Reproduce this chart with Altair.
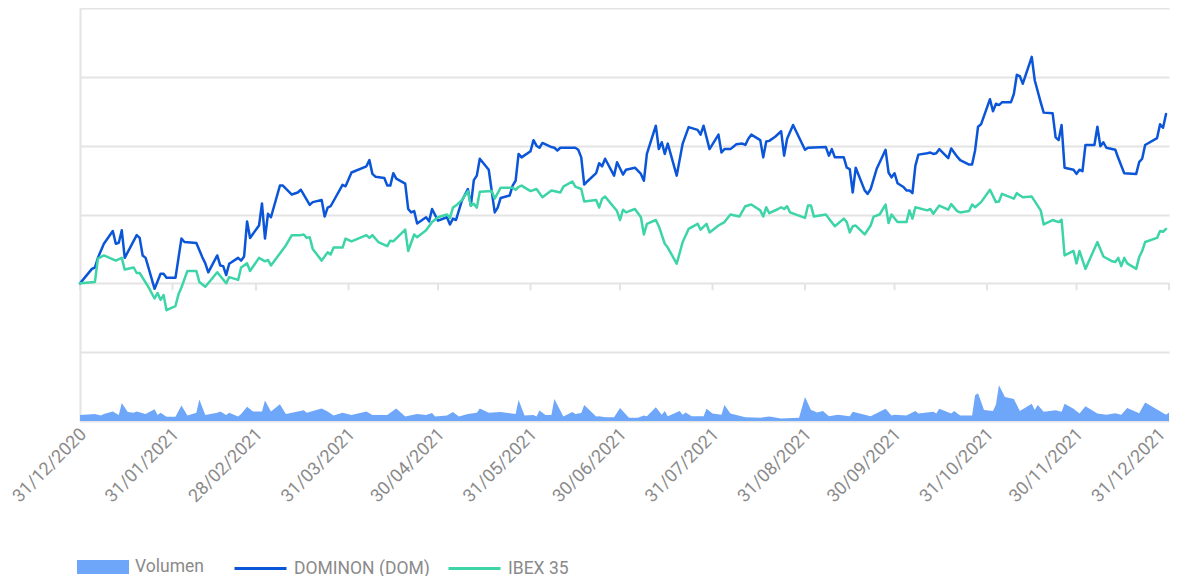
import altair as alt
import pandas as pd

START = "2020-12-31"

# ---- DOMINON (DOM): day offset from 31/12/2020, % change ----
DOM_DAYS = [0, 4, 5, 6, 8, 11, 12, 13, 14, 15, 19, 20, 21, 22, 25, 27, 28, 29, 32, 34, 35, 39, 41, 42, 43, 46, 47, 48, 49, 50,
            53, 54, 55, 56, 57, 60, 61, 62, 63, 64, 67, 68, 71, 73, 74, 77, 78, 81, 82, 83, 84, 88, 89, 91, 96, 97, 98, 99, 102, 103,
            104, 105, 106, 109, 110, 111, 112, 113, 116, 117, 118, 120, 123, 124, 125, 126, 128, 130, 131, 132, 133, 134, 137, 139, 140, 141, 144, 145, 146, 147,
            148, 151, 152, 153, 154, 155, 158, 159, 160, 161, 166, 167, 168, 169, 170, 173, 174, 175, 176, 179, 180, 182, 183, 186, 188, 189, 190, 193, 194, 195,
            196, 197, 200, 202, 204, 207, 208, 209, 211, 214, 215, 216, 218, 220, 222, 223, 224, 225, 228, 229, 230, 231, 233, 235, 236, 237, 239, 243, 244, 250,
            251, 252, 253, 256, 257, 258, 259, 260, 263, 264, 265, 267, 270, 271, 272, 273, 274, 276, 277, 278, 279, 280, 281, 284, 285, 286, 287, 288, 291, 292,
            294, 295, 298, 299, 300, 301, 302, 305, 306, 307, 308, 309, 312, 313, 314, 315, 316, 319, 320, 322, 323, 326, 327, 328, 329, 330, 333, 334, 335, 336,
            337, 340, 341, 342, 343, 344, 347, 348, 350, 354, 355, 356, 357, 361, 362, 363, 364]
DOM_VALUES = [0, 2.1, 2.3, 3.7, 5.75, 7.6, 5.75, 5.9, 7.7, 3.7, 7.0, 6.6, 4.05, 3.7, -0.8, 1.4, 1.4, 0.8, 0.8, 6.5, 6.0, 5.85, 3.8, 2.9, 1.6, 4.05, 2.6, 2.5, 1.2, 2.85,
              3.7, 3.3, 3.9, 9.0, 6.6, 8.4, 11.6, 6.5, 10.1, 9.6, 14.2, 14.2, 12.9, 13.2, 13.6, 11.4, 11.8, 12.1, 9.7, 11.0, 11.2, 14.3, 14.1, 16.1, 17.0, 17.9, 15.9, 15.5, 15.3, 14.2,
              14.2, 16.0, 15.2, 14.5, 10.8, 10.3, 10.5, 8.7, 9.6, 9.0, 10.8, 9.1, 9.6, 8.55, 9.4, 9.2, 12.0, 13.7, 11.3, 15.0, 15.65, 18.1, 16.5, 10.3, 11.0, 12.4, 12.75, 14.2, 14.9, 18.8,
              18.3, 19.2, 20.8, 20.0, 19.7, 20.4, 19.8, 19.7, 19.3, 19.7, 19.7, 19.4, 18.3, 14.35, 14.8, 16.0, 17.45, 17.0, 18.1, 15.65, 17.6, 15.8, 16.5, 16.8, 15.9, 14.9, 18.8, 22.9, 19.5, 20.5,
              18.8, 20.3, 15.65, 20.3, 22.7, 22.3, 21.6, 22.9, 19.5, 21.6, 19.0, 19.5, 19.5, 20.2, 20.3, 20.1, 21.0, 21.6, 20.8, 18.3, 20.6, 20.7, 21.3, 22.1, 18.55, 21.0, 23.0, 19.4, 19.7, 19.8,
              18.55, 19.5, 18.3, 18.3, 16.8, 16.6, 13.2, 16.8, 13.5, 13.0, 13.7, 16.6, 19.4, 16.1, 15.4, 16.0, 14.55, 14.0, 13.5, 13.5, 13.1, 17.1, 18.7, 18.9, 19.0, 18.8, 18.9, 19.5, 18.2, 19.6,
              18.4, 17.9, 17.25, 17.25, 19.3, 22.75, 23.1, 26.75, 25.0, 26.1, 25.9, 26.3, 26.3, 27.5, 30.3, 30.1, 29.0, 32.9, 29.5, 26.3, 24.8, 24.7, 21.2, 20.8, 23.0, 16.8, 16.5, 15.9, 16.5, 16.3,
              20.1, 20.1, 22.75, 19.9, 20.5, 19.7, 19.4, 18.2, 16.0, 15.9, 17.6, 18.1, 20.1, 21.1, 23.1, 22.6, 24.6]

# ---- IBEX 35 ----
IBEX_DAYS = [0, 5, 6, 8, 12, 14, 15, 18, 19, 20, 23, 25, 26, 27, 28, 29, 32, 33, 34, 36, 39, 40, 42, 46, 49, 50, 53, 54, 56, 57,
             60, 62, 63, 64, 69, 71, 74, 75, 76, 77, 78, 81, 83, 84, 85, 88, 89, 91, 96, 97, 98, 100, 103, 104, 105, 109, 110, 112, 113, 116,
             118, 120, 123, 124, 125, 126, 128, 130, 131, 132, 133, 134, 138, 139, 141, 145, 146, 147, 148, 151, 153, 155, 158, 161, 162, 165, 166, 168, 169, 173,
             174, 175, 176, 180, 181, 182, 183, 186, 188, 189, 190, 193, 194, 196, 197, 200, 202, 204, 207, 208, 210, 211, 214, 216, 218, 221, 223, 225, 228, 229,
             230, 231, 234, 235, 236, 237, 238, 243, 244, 245, 246, 250, 251, 253, 256, 257, 258, 259, 260, 263, 265, 266, 268, 270, 271, 272, 274, 277, 278, 279,
             280, 284, 285, 286, 288, 291, 292, 294, 295, 298, 299, 300, 302, 305, 307, 308, 309, 313, 314, 316, 319, 322, 323, 326, 328, 329, 330, 333, 334, 335,
             337, 341, 343, 346, 347, 348, 349, 350, 351, 354, 355, 356, 357, 361, 362, 363, 364]
IBEX_VALUES = [0, 0.2, 3.6, 4.05, 3.3, 3.7, 2.0, 2.3, 1.5, 1.5, -0.6, -2.2, -1.4, -2.4, -1.7, -3.9, -3.3, -1.6, -0.6, 1.8, 1.8, 0.2, -0.5, 1.6, 0.0, 0.9, 0.5, 2.3, 2.9, 1.8,
               3.7, 3.2, 3.4, 2.6, 5.5, 7.0, 7.0, 7.1, 6.6, 6.7, 5.0, 3.3, 4.5, 4.2, 5.2, 5.2, 6.5, 6.1, 7.0, 6.6, 7.0, 6.0, 5.4, 6.2, 6.1, 7.8, 4.7, 7.1, 6.7, 7.7,
               8.9, 9.6, 10.0, 9.5, 11.0, 11.3, 12.1, 13.4, 11.3, 11.55, 11.0, 13.3, 13.4, 12.3, 13.9, 13.9, 13.6, 14.0, 14.2, 13.4, 13.7, 12.5, 13.5, 13.2, 14.05, 14.8, 14.05, 13.7, 11.9, 12.1,
               11.0, 12.3, 12.6, 10.5, 9.2, 10.7, 10.3, 10.8, 9.6, 7.1, 8.65, 9.2, 8.3, 5.75, 5.2, 2.85, 6.0, 7.9, 8.65, 7.8, 8.65, 7.4, 8.4, 8.9, 10.0, 9.7, 11.2, 11.45, 10.6, 9.7,
               11.05, 10.2, 10.8, 11.05, 10.8, 11.2, 10.3, 9.5, 11.3, 11.3, 9.7, 10.0, 9.4, 8.3, 9.4, 8.9, 7.4, 8.3, 8.4, 7.1, 8.4, 9.7, 10.0, 11.45, 8.75, 10.0, 8.9, 8.9, 10.6, 9.4,
               11.05, 10.6, 10.8, 10.1, 11.3, 10.7, 11.5, 10.5, 10.3, 10.5, 11.45, 11.05, 11.8, 13.6, 11.8, 11.9, 13.0, 12.3, 13.1, 12.5, 12.6, 10.6, 8.55, 9.2, 8.9, 9.25, 4.05, 4.7, 2.9, 4.7,
               2.1, 6.0, 3.9, 3.2, 3.1, 3.7, 2.5, 3.7, 2.9, 2.1, 3.8, 4.7, 6.0, 6.6, 7.6, 7.5, 7.9]

# ---- Volumen (thousand shares) ----
VOL_DAYS = [0, 5, 7, 8, 11, 13, 14, 16, 18, 19, 22, 25, 26, 27, 29, 32, 34, 36, 39, 40, 42, 46, 47, 49, 50, 53, 54, 56, 58, 61,
            62, 64, 67, 69, 75, 76, 81, 83, 85, 88, 91, 96, 98, 103, 104, 106, 109, 113, 116, 118, 119, 123, 125, 127, 130, 133, 134, 137, 141, 146,
            147, 149, 152, 153, 154, 156, 158, 159, 162, 165, 166, 168, 169, 173, 174, 176, 179, 181, 184, 187, 189, 190, 193, 195, 196, 197, 201, 202, 203, 205,
            209, 210, 212, 215, 216, 218, 223, 228, 231, 235, 241, 243, 245, 246, 247, 249, 251, 254, 258, 259, 265, 270, 272, 273, 277, 280, 281, 286, 287, 288,
            292, 293, 295, 299, 300, 301, 303, 306, 307, 308, 310, 313, 315, 319, 320, 321, 323, 327, 329, 330, 333, 335, 337, 341, 344, 347, 349, 351, 355, 357,
            364, 365]
VOL_VALUES = [61, 71, 54, 71, 96, 61, 179, 89, 82, 96, 71, 118, 61, 82, 43, 43, 154, 54, 82, 214, 61, 82, 96, 61, 82, 46, 71, 143, 96, 96,
              204, 96, 168, 71, 107, 82, 125, 96, 54, 82, 61, 96, 61, 61, 82, 125, 46, 71, 61, 79, 46, 54, 89, 46, 71, 82, 125, 82, 89, 71,
              211, 54, 61, 46, 104, 61, 61, 221, 46, 89, 71, 79, 161, 46, 48, 37, 37, 129, 33, 33, 55, 48, 137, 63, 100, 48, 100, 63, 85, 48,
              48, 122, 74, 63, 159, 74, 37, 33, 44, 26, 33, 240, 111, 100, 85, 100, 48, 63, 48, 92, 48, 122, 55, 63, 55, 100, 74, 92, 74, 122,
              74, 100, 55, 55, 258, 277, 111, 100, 166, 358, 240, 221, 100, 173, 111, 159, 92, 107, 92, 173, 122, 74, 148, 74, 63, 77, 63, 129, 77, 185,
              63, 85]

TICK_DATES = ["2020-12-31", "2021-01-31", "2021-02-28", "2021-03-31", "2021-04-30", "2021-05-31", "2021-06-30",
              "2021-07-31", "2021-08-31", "2021-09-30", "2021-10-31", "2021-11-30", "2021-12-31"]

SERIES = ["DOMINON (DOM)", "IBEX 35"]
VOL_NAME = "Volumen"

DOM_COLOR = "#0b55d9"
IBEX_COLOR = "#3dd4a7"
VOL_COLOR = "#6ea6fa"
GRID = "#e4e4e4"
TEXT = "#8a8a8a"
FONT = "Roboto"

start = pd.Timestamp(START)


def to_dates(days):
    return [(start + pd.Timedelta(days=d)).strftime("%Y-%m-%d") for d in days]


dom_df = pd.DataFrame({"date": to_dates(DOM_DAYS), "value": DOM_VALUES, "series": SERIES[0]})
ibex_df = pd.DataFrame({"date": to_dates(IBEX_DAYS), "value": IBEX_VALUES, "series": SERIES[1]})
dom_df["order"] = range(len(dom_df))
ibex_df["order"] = range(len(ibex_df))
lines_df = pd.concat([dom_df, ibex_df], ignore_index=True)

vol_df = pd.DataFrame({"date": to_dates(VOL_DAYS), "vol": VOL_VALUES, "series": VOL_NAME})
ticks_df = pd.DataFrame({"date": TICK_DATES})


def dt(s):
    y, m, d = (int(p) for p in s.split("-"))
    return alt.DateTime(year=y, month=m, date=d, utc=True)


x_scale = alt.Scale(type="utc", domain=[dt(TICK_DATES[0]), dt(TICK_DATES[-1])])
x_axis = alt.Axis(
    values=[dt(s) for s in TICK_DATES],
    labelExpr="utcFormat(datum.value, '%d/%m/%Y')",
    labelAngle=-45,
    labelFont=FONT,
    labelFontSize=18,
    labelColor=TEXT,
    labelPadding=4,
    labelOffset={"condition": {"test": "datum.value > 1640000000000", "value": -13}, "value": -3},
    labelFlush=False,
    labelOverlap=False,
    labelBound=False,
    ticks=False,
    domain=False,
    grid=False,
    title=None,
)
X = alt.X("date:T", scale=x_scale, axis=x_axis)

LEGEND_Y = 533

area = alt.Chart(vol_df).mark_area(interpolate="linear", opacity=1).encode(
    x=X,
    y=alt.Y("vol:Q", scale=alt.Scale(domain=[0, 4130], nice=False, zero=True), axis=None),
    fill=alt.Fill(
        "series:N",
        scale=alt.Scale(domain=[VOL_NAME], range=[VOL_COLOR]),
        legend=alt.Legend(
            title=None, orient="none", legendX=-3, legendY=LEGEND_Y, padding=0,
            symbolType="M-1,-0.27H1V0.27H-1Z", symbolSize=2704, symbolStrokeWidth=0,
            symbolOpacity=1, labelFont=FONT, labelFontSize=17.5, labelColor=TEXT, labelOffset=6,
        ),
    ),
)

lines = alt.Chart(lines_df).mark_line(strokeWidth=2.5, strokeJoin="round", strokeCap="round").encode(
    x=X,
    y=alt.Y(
        "value:Q",
        scale=alt.Scale(domain=[-20, 40], nice=False, zero=False),
        axis=alt.Axis(values=[-20, -10, 0, 10, 20, 30, 40], labels=False, ticks=False,
                      domain=True, domainColor=GRID, domainWidth=2,
                      grid=True, gridColor=GRID, gridWidth=2, title=None),
    ),
    stroke=alt.Stroke(
        "series:N",
        scale=alt.Scale(domain=SERIES, range=[DOM_COLOR, IBEX_COLOR]),
        legend=alt.Legend(
            title=None, orient="none", legendX=153, legendY=LEGEND_Y, padding=0, direction="horizontal",
            symbolType="M-1,0H1", symbolSize=2704, symbolStrokeWidth=3, columnPadding=12,
            labelFont=FONT, labelFontSize=17.5, labelColor=TEXT, labelOffset=6,
        ),
    ),
    order="order:Q",
)

zero_ticks = alt.Chart(ticks_df).mark_tick(orient="vertical", size=7, thickness=2, color=GRID, yOffset=3.5, opacity=1).encode(
    x=X,
    y=alt.datum(0),
)

price = alt.layer(zero_ticks, lines)

chart = alt.layer(area, price).resolve_scale(y="independent", fill="independent", stroke="independent").properties(
    width=1089,
    height=413,
    autosize=alt.AutoSizeParams(type="none"),
    padding={"left": 72, "top": 0, "right": 1, "bottom": 160},
    background="white",
).configure_view(stroke=None)

chart.save("out.html", embed_options={"renderer": "svg", "actions": False})
